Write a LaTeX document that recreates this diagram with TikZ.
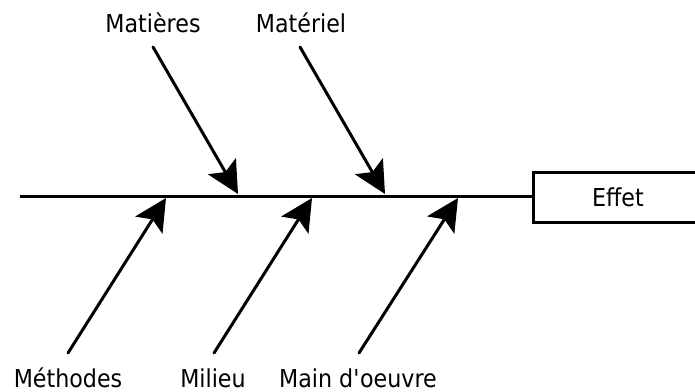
\documentclass[tikz,border=0pt]{standalone}
\usepackage{fontspec}
\setmainfont{DejaVu Sans}[FakeStretch=0.9]
\usetikzlibrary{arrows.meta}

\tikzset{
  cause/.style={font=\fontsize{18.5}{22}\selectfont, anchor=base, inner sep=0pt},
  effetbox/.style={draw, line width=2.25pt, minimum width=127.5pt, minimum height=37.5pt,
    font=\fontsize{18.5}{22}\selectfont, inner sep=0pt}
}

\begin{document}
\begin{tikzpicture}[>={Stealth[length=24pt,width=24pt,inset=5pt]}, x=0.75pt, y=-0.75pt, line width=2.25pt]
\clip (0,0) rectangle (695,392);

\coordinate (tete) at (20,196);
\node[effetbox] (effet) at (618,197) {Effet};
\draw (tete)--(effet.west|-tete);

\foreach \n/\txt/\xl/\yl/\xa/\ya/\xb/\yb in {mat/Matières/153/33/153/47/238/194,
    matl/Matériel/301/33/300/47/385/194,
    meth/Méthodes/68/387/68/353/166/198,
    mil/Milieu/213/387/214/353/312/198,
    mo/Main d\textquotesingle oeuvre/358/387/359/353/458/198}
{
    \node[cause] (l\n) at (\xl,\yl) {\txt};
    \coordinate (s\n) at (\xa,\ya);
    \coordinate (e\n) at (\xb,\yb);
    \draw[->, line cap=round] (s\n)--(e\n);
}
\end{tikzpicture}
\end{document}
